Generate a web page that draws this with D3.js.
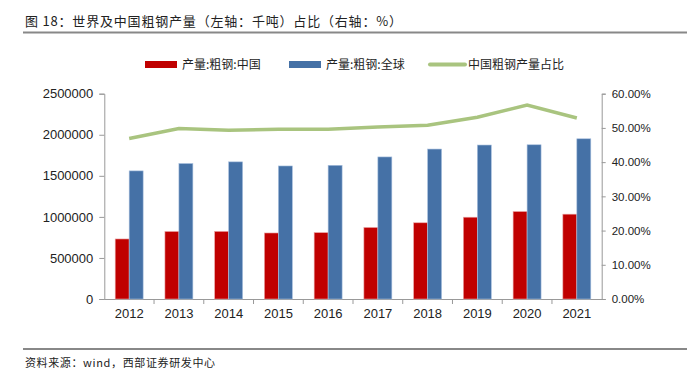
<!DOCTYPE html>
<html>
<head>
<meta charset="utf-8">
<script src="https://cdn.jsdelivr.net/npm/d3@7"></script>
<style>
  body { margin: 0; background: #fff; }
  svg { display: block; }
  text { font-family: "Liberation Sans", Arial, sans-serif; fill: #222; }
  .cjk { font-family: "Noto Sans CJK SC", sans-serif; }
</style>
</head>
<body>
<div id="chart"></div>
<script>
/* world vs china crude steel output, with china's share on right axis */

const years = ["2012", "2013", "2014", "2015", "2016", "2017", "2018", "2019", "2020", "2021"];
const china = [731000, 822000, 823000, 804000, 808000, 871000, 928000, 996000, 1065000, 1033000]; // 千吨
const world = [1560000, 1650000, 1670000, 1620000, 1628000, 1730000, 1826000, 1875000, 1878000, 1951000];
const share = [0.469, 0.498, 0.493, 0.496, 0.496, 0.503, 0.508, 0.531, 0.567, 0.529];
const leftTicks = [0, 500000, 1000000, 1500000, 2000000, 2500000];
const rightTicks = [0, 0.1, 0.2, 0.3, 0.4, 0.5, 0.6];
const seriesNames = ["产量:粗钢:中国", "产量:粗钢:全球", "中国粗钢产量占比"];

const width = 687, height = 377,
      margin = ({top: 93.7, right: 85.3, bottom: 78, left: 104.3});

const colors = {china: "#c00000", world: "#4571a6", share: "#a9c47f"};

let svg = d3.select("#chart")
    .append("svg")
    .attr("width", width)
    .attr("height", height);

// title + rules
svg.append("text")
    .attr("class", "cjk")
    .attr("x", 25).attr("y", 25.5)
    .attr("font-size", 13)
    .attr("textLength", 377)
    .text("图 18：世界及中国粗钢产量（左轴：千吨）占比（右轴：%）");

svg.append("line")
    .attr("x1", 23).attr("x2", width).attr("y1", 32.5).attr("y2", 32.5)
    .attr("stroke", "#888").attr("stroke-width", 2);

svg.append("line")
    .attr("x1", 23).attr("x2", width).attr("y1", 349).attr("y2", 349)
    .attr("stroke", "#888").attr("stroke-width", 2);

svg.append("text")
    .attr("class", "cjk")
    .attr("x", 25).attr("y", 366.5)
    .attr("font-size", 11)
    .attr("textLength", 190)
    .text("资料来源：wind，西部证券研发中心");

// scales
let x = d3.scaleBand()
    .domain(years)
    .range([margin.left, width - margin.right])
    .padding(0);

let x1 = d3.scaleBand()
    .domain(["china", "world"])
    .range([0, x.bandwidth()])
    .paddingInner(0)
    .paddingOuter(0.78);

let y = d3.scaleLinear()
    .domain([0, 2500000])
    .range([height - margin.bottom, margin.top]);

let y2 = d3.scaleLinear()
    .domain([0, 0.6])
    .range([height - margin.bottom, margin.top]);

// axes
const yAxis = g => g
    .attr("transform", `translate(${margin.left}, 0)`)
    .call(d3.axisLeft(y).tickValues(leftTicks).tickFormat(d3.format("d")).tickSizeOuter(0).tickSize(5).tickPadding(6));

const yAxis2 = g => g
    .attr("transform", `translate(${width - margin.right}, 0)`)
    .call(d3.axisRight(y2).tickValues(rightTicks).tickFormat(d3.format(".2%")).tickSizeOuter(0).tickSize(4).tickPadding(6));

const xAxis = g => g
    .attr("transform", `translate(0, ${height - margin.bottom})`)
    .call(d3.axisBottom(x).tickSize(0).tickPadding(10).tickSizeOuter(0));

let gy = svg.append("g").call(yAxis);
gy.selectAll("text").attr("font-size", 13);

let gy2 = svg.append("g").call(yAxis2);
gy2.selectAll("text").attr("font-size", 11.5);

let gx = svg.append("g").call(xAxis);
gx.selectAll("text").attr("font-size", 13);

// category boundary ticks under the x axis
svg.append("g")
    .selectAll("line")
    .data(years.slice(1))
    .join("line")
    .attr("x1", d => x(d)).attr("x2", d => x(d))
    .attr("y1", height - margin.bottom).attr("y2", height - margin.bottom + 5)
    .attr("stroke", "#999");

svg.selectAll(".domain, .tick line").attr("stroke", "#999");
svg.selectAll(".tick text").attr("fill", "#222").attr("font-family", "Liberation Sans, Arial, sans-serif");

// bars
let bar = svg.selectAll(".bar")
    .data(years)
    .join("g")
    .attr("class", "bar")
    .attr("transform", d => `translate(${x(d)}, 0)`);

bar.append("rect")
    .attr("fill", colors.china)
    .attr("stroke", "#e9a3a3").attr("stroke-width", 0.6)
    .attr("x", x1("china"))
    .attr("width", x1.bandwidth())
    .attr("y", (d, i) => y(china[i]))
    .attr("height", (d, i) => y(0) - y(china[i]));

bar.append("rect")
    .attr("fill", colors.world)
    .attr("stroke", "#a9c0de").attr("stroke-width", 0.6)
    .attr("x", x1("world"))
    .attr("width", x1.bandwidth())
    .attr("y", (d, i) => y(world[i]))
    .attr("height", (d, i) => y(0) - y(world[i]));

// share line
let line = d3.line()
    .x((d, i) => x(years[i]) + x.bandwidth() / 2)
    .y(d => y2(d));

svg.append("path")
    .datum(share)
    .attr("fill", "none")
    .attr("stroke", colors.share)
    .attr("stroke-width", 3.5)
    .attr("d", line);

// legend
const legend = [
    {name: seriesNames[0], color: colors.china, type: "rect", x: 145},
    {name: seriesNames[1], color: colors.world, type: "rect", x: 289},
    {name: seriesNames[2], color: colors.share, type: "line", x: 430}
];

let lg = svg.append("g")
    .selectAll("g")
    .data(legend)
    .join("g")
    .attr("transform", d => `translate(${d.x}, 64.5)`);

lg.filter(d => d.type === "rect").append("rect")
    .attr("x", 0).attr("y", -3.5)
    .attr("width", 32).attr("height", 7)
    .attr("fill", d => d.color);

lg.filter(d => d.type === "line").append("line")
    .attr("x1", 0).attr("x2", 35)
    .attr("stroke", d => d.color)
    .attr("stroke-width", 4)
    .attr("stroke-linecap", "round");

lg.append("text")
    .attr("class", "cjk")
    .attr("x", d => d.type === "rect" ? 37 : 38)
    .attr("y", 4.5)
    .attr("font-size", 12)
    .text(d => d.name);
</script>
</body>
</html>
